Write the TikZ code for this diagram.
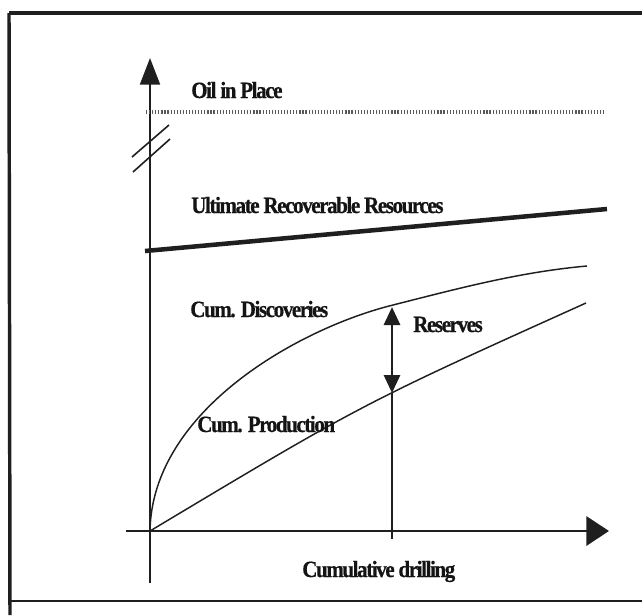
\documentclass[tikz,border=0pt]{standalone}
\usepackage{fontspec}
\usetikzlibrary{arrows.meta}
\newfontfamily\lblfont{Liberation Serif}[FakeStretch=0.9, LetterSpace=-6, FakeBold=0.6]
\tikzset{
  lbl/.style={anchor=base west, inner sep=0pt, font=\lblfont\bfseries\fontsize{17.5}{20}\selectfont, text=black!92},
  axisline/.style={line width=1.6pt, draw=black!88},
  frameline/.style={line width=2.6pt, draw=black!88},
  curveline/.style={line width=1.1pt, draw=black!88},
}
\begin{document}
\begin{tikzpicture}[x=0.75pt,y=-0.75pt]
\useasboundingbox (0,0) rectangle (642,615);
% frame
\coordinate (ftl) at (9,13);
\coordinate (ftr) at (642,13);
\coordinate (fbl) at (10,615);
\coordinate (fbl2) at (10,601);
\coordinate (fbr) at (642,601);
\draw[frameline, line width=3pt] (ftl) -- (ftr);
\draw[frameline] (ftl) -- (fbl);
\draw[frameline, line width=2.2pt] (fbl2) -- (fbr);
% axes
\coordinate (o) at (150,531);
\coordinate (ybot) at (150,583);
\coordinate (ytip) at (150,58);
\coordinate (xleft) at (126,531);
\coordinate (xtip) at (609,531);
\draw[axisline, -{Triangle[length=20pt,width=15pt]}] (ybot) -- (ytip);
\draw[axisline, -{Triangle[length=17pt,width=22pt]}] (xleft) -- (xtip);
% break marks
\coordinate (b1a) at (132,157); \coordinate (b1b) at (169,125);
\coordinate (b2a) at (133,172); \coordinate (b2b) at (170,139);
\draw[line width=1.2pt, draw=black!88] (b1a) -- (b1b);
\draw[line width=1.2pt, draw=black!88] (b2a) -- (b2b);
% oil in place line
\coordinate (oipa) at (146,112);
\coordinate (oipb) at (605,112);
\draw[line width=2.6pt, draw=black!65, dash pattern=on 0.9pt off 1.4pt] (oipa) -- (oipb);
% URR line
\coordinate (urra) at (145,251);
\coordinate (urrb) at (607,209);
\draw[line width=3.4pt, draw=black!88] (urra) -- (urrb);
% discoveries curve
\coordinate (dmid) at (393,305);
\coordinate (dend) at (587,266);
\draw[curveline] (o) .. controls (152,410) and (300,328) .. (dmid)
                     .. controls (460,288) and (520,272) .. (dend);
% production curve
\coordinate (pend) at (586,303);
\draw[curveline] (o) .. controls (362,404) .. (pend);
% reserves arrow
\coordinate (rtop) at (392,307);
\coordinate (rbot) at (392,393);
\coordinate (tickb) at (392,539);
\draw[line width=1.1pt, draw=black!88] (rbot) -- (tickb);
\draw[line width=2.2pt, draw=black!88, {Triangle[length=13.5pt,width=12pt]}-{Triangle[length=13.5pt,width=12pt]}] (rtop) -- (rbot);
% labels
\node[lbl] (oip) at (191,98) {Oil in Place};
\node[lbl] (urr) at (191,213) {Ultimate Recoverable Resources};
\node[lbl] (disc) at (190,317) {Cum. Discoveries};
\node[lbl] (res) at (413,332) {Reserves};
\node[lbl] (prod) at (197,432) {Cum. Production};
\node[lbl] (drill) at (302,577) {Cumulative drilling};
\end{tikzpicture}
\end{document}
